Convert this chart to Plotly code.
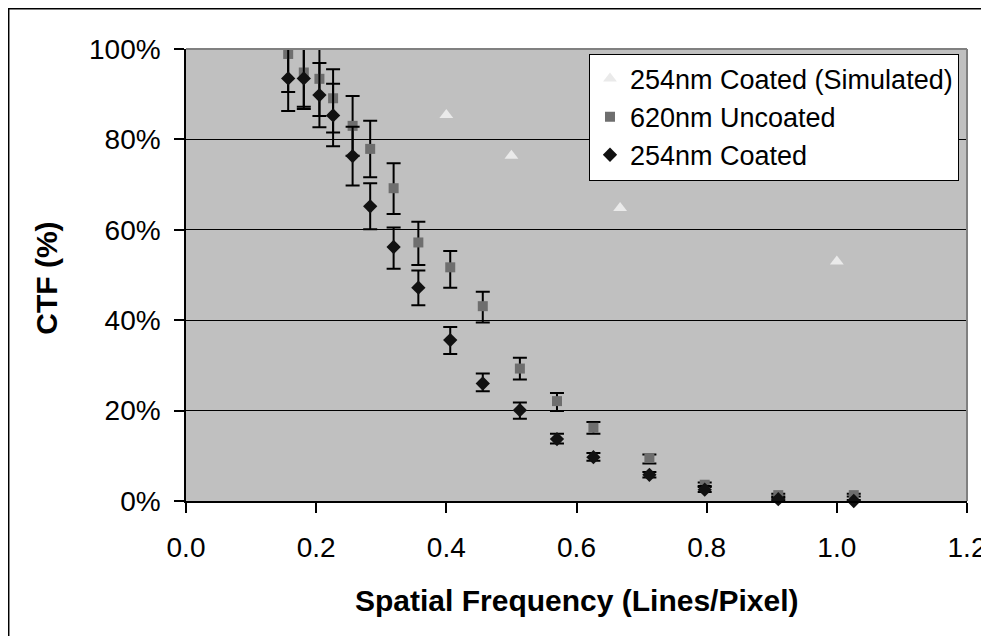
import plotly.graph_objects as go

# Spatial frequency (Lines/Pixel)
freq = [0.157, 0.181, 0.205, 0.226, 0.256, 0.283, 0.319, 0.357, 0.406,
        0.456, 0.513, 0.570, 0.626, 0.712, 0.797, 0.910, 1.026]

# 620nm Uncoated
uncoated = [0.989, 0.948, 0.934, 0.891, 0.830, 0.779, 0.692, 0.572, 0.517,
            0.431, 0.293, 0.221, 0.162, 0.095, 0.036, 0.013, 0.013]
uncoated_err_up = [0.022, 0.063, 0.071, 0.064, 0.066, 0.062, 0.055, 0.046, 0.036,
                   0.032, 0.024, 0.018, 0.013, 0.008, 0.005, 0.003, 0.003]
uncoated_err_down = [0.084, 0.076, 0.082, 0.076, 0.066, 0.063, 0.057, 0.050, 0.045,
                     0.036, 0.024, 0.022, 0.013, 0.012, 0.005, 0.003, 0.003]

# 254nm Coated
coated = [0.935, 0.935, 0.898, 0.853, 0.763, 0.652, 0.562, 0.472, 0.356,
          0.260, 0.201, 0.137, 0.097, 0.058, 0.025, 0.004, 0.000]
coated_err_up = [0.072, 0.068, 0.071, 0.070, 0.065, 0.051, 0.043, 0.038, 0.029,
                 0.022, 0.017, 0.012, 0.009, 0.006, 0.008, 0.003, 0.002]
coated_err_down = [0.072, 0.068, 0.071, 0.068, 0.065, 0.051, 0.048, 0.039, 0.031,
                   0.017, 0.019, 0.010, 0.008, 0.006, 0.005, 0.003, 0.002]

# 254nm Coated (Simulated)
sim_freq = [0.4, 0.5, 0.667, 1.0]
sim_ctf = [0.854, 0.764, 0.648, 0.530]

FONT = "Arial, Liberation Sans, sans-serif"

fig = go.Figure()

fig.add_trace(go.Scatter(
    x=sim_freq, y=sim_ctf, mode="markers", name="254nm Coated (Simulated)",
    marker=dict(symbol="triangle-up", size=12, color="#EAEAEA"),
    cliponaxis=False,
))

fig.add_trace(go.Scatter(
    x=freq, y=uncoated, mode="markers", name="620nm Uncoated",
    marker=dict(symbol="square", size=10, color="#6E6E6E"),
    error_y=dict(type="data", symmetric=False, array=uncoated_err_up,
                 arrayminus=uncoated_err_down, color="#000000",
                 thickness=2, width=7),
    cliponaxis=False,
))

fig.add_trace(go.Scatter(
    x=freq, y=coated, mode="markers", name="254nm Coated",
    marker=dict(symbol="diamond", size=11, color="#111111"),
    error_y=dict(type="data", symmetric=False, array=coated_err_up,
                 arrayminus=coated_err_down, color="#000000",
                 thickness=2, width=7),
    cliponaxis=False,
))

fig.update_layout(
    width=989, height=636,
    margin=dict(l=178, r=30, t=41, b=143, autoexpand=False),
    paper_bgcolor="white",
    plot_bgcolor="#C0C0C0",
    font=dict(family=FONT, size=28, color="#000000"),
    showlegend=True,
    legend=dict(
        x=0.516, y=0.99, xanchor="left", yanchor="top",
        bgcolor="white", bordercolor="#000000", borderwidth=1,
        font=dict(family=FONT, size=27, color="#000000"),
        itemwidth=30, tracegroupgap=0,
    ),
    xaxis=dict(
        range=[0, 1.2], dtick=0.2, tick0=0, tickformat=".1f",
        showgrid=False, zeroline=False,
        showline=True, linecolor="#000000", linewidth=1.5,
        ticks="outside", ticklen=10, tickcolor="#000000", tickwidth=1.5,
        ticklabelstandoff=11,
        tickfont=dict(family=FONT, size=28),
    ),
    yaxis=dict(
        range=[0, 1], dtick=0.2, tick0=0, tickformat=".0%",
        showgrid=True, gridcolor="#000000", gridwidth=1,
        zeroline=False,
        showline=True, linecolor="#000000", linewidth=1.5,
        ticks="outside", ticklen=10, tickcolor="#000000", tickwidth=1.5,
        ticklabelstandoff=8,
        tickfont=dict(family=FONT, size=28),
    ),
    annotations=[
        dict(text="<b>Spatial Frequency (Lines/Pixel)</b>", xref="paper", yref="paper",
             x=0.5, y=-0.22, xanchor="center", yanchor="middle", showarrow=False,
             font=dict(family=FONT, size=30, color="#000000")),
        dict(text="<b>CTF (%)</b>", xref="paper", yref="paper",
             x=-0.178, y=0.494, xanchor="center", yanchor="middle", showarrow=False,
             textangle=-90,
             font=dict(family=FONT, size=30, color="#000000")),
    ],
    shapes=[
        dict(type="line", xref="paper", yref="paper", x0=0, x1=1, y0=1, y1=1,
             line=dict(color="#808080", width=2), layer="above"),
        dict(type="line", xref="paper", yref="paper", x0=1, x1=1, y0=0, y1=1,
             line=dict(color="#808080", width=2), layer="above"),
        dict(type="rect", xref="paper", yref="paper", x0=-0.2270, x1=1.08,
             y0=-0.4, y1=1.0890, line=dict(color="#000000", width=1.5),
             fillcolor="rgba(0,0,0,0)", layer="above"),
    ],
)

fig.write_html("out.html")
